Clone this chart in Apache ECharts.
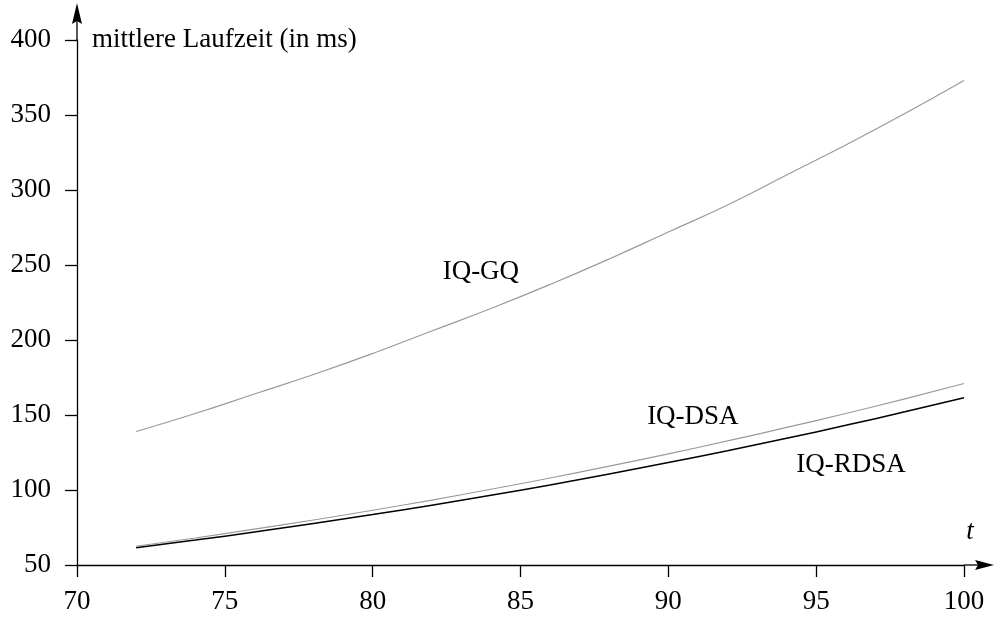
<!DOCTYPE html>
<html>
<head>
<meta charset="utf-8">
<script src="https://cdn.jsdelivr.net/npm/echarts@6/dist/echarts.min.js"></script>
<style>
html,body{margin:0;padding:0;background:#fff;}
#chart{width:994px;height:618px;}
</style>
</head>
<body>
<div id="chart"></div>
<script>
const tValues = [72, 74, 76, 78, 80, 82, 84, 86, 88, 90, 92, 94, 96, 98, 100];
const iqGQ   = [139, 151, 164, 177, 191, 206, 221, 237, 254, 272, 290, 310, 330, 351, 373];
const iqDSA  = [62.5, 68, 73.9, 80, 86.5, 93.3, 100.5, 108, 115.9, 124.1, 132.7, 141.7, 151, 160.8, 171];
const iqRDSA = [61.5, 66.6, 72, 77.7, 83.6, 89.9, 96.5, 103.4, 110.7, 118.3, 126.2, 134.5, 143.1, 152.1, 161.5];
const xTicks = [70, 75, 80, 85, 90, 95, 100];
const yTicks = [50, 100, 150, 200, 250, 300, 350, 400];
const yTitle = 'mittlere Laufzeit (in ms)';
const xTitle = 't';
const seriesLabels = [
  {text: 'IQ-GQ', at: [83.66, 245.3]},
  {text: 'IQ-DSA', at: [90.83, 148.7]},
  {text: 'IQ-RDSA', at: [96.18, 116.7]}
];

const FONT = '"Liberation Serif", "DejaVu Serif", serif';
const FS = 27;
const zip = (a, b) => a.map((v, i) => [v, b[i]]);

const chart = echarts.init(document.getElementById('chart'), null, {renderer: 'canvas'});
const axisCommon = {
  type: 'value',
  splitLine: {show: false},
  axisLine: {show: true, lineStyle: {color: '#000', width: 1.3}},
  axisTick: {show: true, length: 12, lineStyle: {color: '#000', width: 1.3}},
  axisLabel: {color: '#000', fontSize: FS, fontFamily: FONT, showMinLabel: true, showMaxLabel: true}
};
chart.setOption({
  backgroundColor: '#fff',
  animation: false,
  grid: {left: 77, right: 30, top: 40, bottom: 53, containLabel: false},
  xAxis: Object.assign({}, axisCommon, {
    min: xTicks[0], max: xTicks[xTicks.length - 1], interval: 5,
    axisLabel: Object.assign({}, axisCommon.axisLabel, {margin: 23})
  }),
  yAxis: Object.assign({}, axisCommon, {
    min: yTicks[0], max: yTicks[yTicks.length - 1], interval: 50,
    axisLabel: Object.assign({}, axisCommon.axisLabel, {margin: 26})
  }),
  series: [
    {name: 'IQ-GQ', type: 'line', data: zip(tValues, iqGQ), smooth: true, showSymbol: false,
     lineStyle: {color: '#9a9a9a', width: 1.2}},
    {name: 'IQ-DSA', type: 'line', data: zip(tValues, iqDSA), smooth: true, showSymbol: false,
     lineStyle: {color: '#9a9a9a', width: 1.2}},
    {name: 'IQ-RDSA', type: 'line', data: zip(tValues, iqRDSA), smooth: true, showSymbol: false,
     lineStyle: {color: '#000', width: 1.5}}
  ]
});

const origin = chart.convertToPixel({gridIndex: 0}, [xTicks[0], yTicks[0]]);
const topP = chart.convertToPixel({gridIndex: 0}, [xTicks[0], yTicks[yTicks.length - 1]]);
const rightP = chart.convertToPixel({gridIndex: 0}, [xTicks[xTicks.length - 1], yTicks[0]]);
const ax = origin[0], ay = origin[1];
const graphics = [
  {type: 'line', shape: {x1: ax, y1: topP[1], x2: ax, y2: 14}, style: {stroke: '#000', lineWidth: 1.3}},
  {type: 'polygon', shape: {points: [[ax, 3], [ax - 5, 24], [ax, 21], [ax + 5, 24]]}, style: {fill: '#000'}},
  {type: 'line', shape: {x1: rightP[0], y1: ay, x2: 984, y2: ay}, style: {stroke: '#000', lineWidth: 1.3}},
  {type: 'polygon', shape: {points: [[994, ay], [975, ay - 5], [978, ay], [975, ay + 5]]}, style: {fill: '#000'}},
  {type: 'text', x: ax + 15, y: topP[1], style: {text: yTitle, font: FS + 'px ' + FONT, fill: '#000', verticalAlign: 'middle', align: 'left'}}
];
const tPos = chart.convertToPixel({gridIndex: 0}, [100.2, 72]);
graphics.push({type: 'text', x: tPos[0], y: tPos[1], style: {text: xTitle, font: 'italic ' + FS + 'px ' + FONT, fill: '#000', verticalAlign: 'middle', align: 'center'}});
seriesLabels.forEach(l => {
  const p = chart.convertToPixel({gridIndex: 0}, l.at);
  graphics.push({type: 'text', x: p[0], y: p[1], style: {text: l.text, font: FS + 'px ' + FONT, fill: '#000', verticalAlign: 'middle', align: 'center'}});
});
chart.setOption({graphic: graphics});
</script>
</body>
</html>
